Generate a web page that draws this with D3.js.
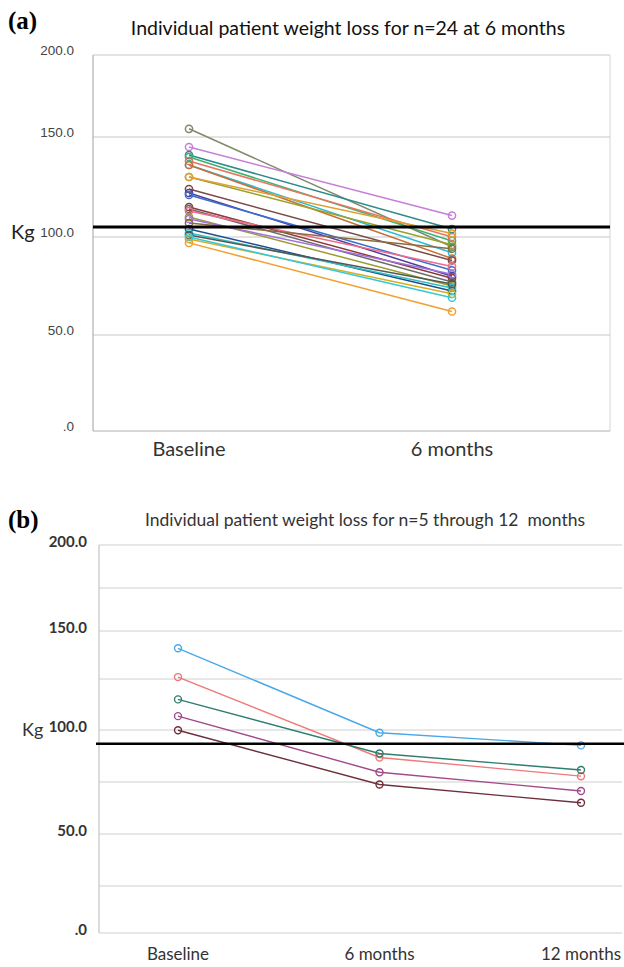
<!DOCTYPE html>
<html>
<head>
<meta charset="utf-8">
<script src="https://cdn.jsdelivr.net/npm/d3@7"></script>
<style>
  body { margin: 0; background: #fff; }
  svg { display: block; }
</style>
</head>
<body>
<div id="chart"></div>
<script>
// Panel (a): 24 patients, baseline and 6 months (kg)
const timesA = ["Baseline", "6 months"];
const baselineA = [155, 145, 141, 140, 138, 136, 136, 130, 130, 124, 122, 121,
    115, 114, 113, 110, 109, 107, 104, 102, 101, 99, 100, 97];
const sixMonthsA = [95, 110.7, 104, 98, 100, 92, 89, 96, 101.7, 88, 80, 83,
    79, 77, 85, 75, 81, 94, 72.5, 74, 76, 71, 69, 62];
const colorsA = ["#7f8a6a", "#c77ed6", "#2e8b8b", "#3cb371", "#e9735f", "#2bbbd0",
    "#c8703a", "#9aa02a", "#e0a030", "#7a4a4a", "#4b3f9e", "#3b6fcf",
    "#8b3a3a", "#6b6b6b", "#f06a8a", "#9c9c2f", "#a070e0", "#8b6b3d",
    "#1f4e8c", "#2fbfbf", "#555555", "#d4b020", "#36c8d8", "#f0a030"];
const refLineA = 105;
const tickLabelsA = [0, 50, 100, 150, 200];

// Panel (b): 5 patients, baseline, 6 months, 12 months (kg)
const timesB = ["Baseline", "6 months", "12 months"];
const patientsB = [
    [141, 98.7, 92.6],
    [126, 86.8, 77.8],
    [115, 88.7, 80.8],
    [106.8, 79.7, 70.7],
    [99.9, 73.8, 65.0]
];
const colorsB = ["#4aa8e8", "#f07878", "#2e7d6e", "#a04a8a", "#6e2e3a"];
const refLineB = 93.4;
const gridTicksB = [0, 25, 50, 75, 100, 125, 150, 175, 200];
const tickLabelsB = [0, 50, 100, 150, 200];

const width = 624, height = 967;
const svg = d3.select("#chart")
    .append("svg")
    .attr("width", width)
    .attr("height", height);

const fmt = d => d === 0 ? ".0" : d3.format(".1f")(d);

// ---------- Panel (a) ----------
const xA = d3.scalePoint().domain(timesA).range([189, 452]);
// the source figure's axis is slightly uneven, so map each tick
const yA = d3.scaleLinear()
    .domain([0, 50, 100, 150, 200])
    .range([431, 335, 237, 137, 55]);
const leftA = 93, rightA = 610;

svg.append("text")
    .attr("x", 8).attr("y", 29)
    .style("font-family", "Liberation Serif, serif")
    .style("font-weight", "bold")
    .style("font-size", "25px")
    .text("(a)");

svg.append("text")
    .attr("x", 348).attr("y", 35)
    .attr("text-anchor", "middle")
    .style("font-family", "Lato, sans-serif")
    .style("font-size", "19.5px")
    .style("fill", "#111")
    .text("Individual patient weight loss for n=24 at 6 months");

const gA = svg.append("g");
gA.selectAll(".grid")
    .data(tickLabelsA.filter(d => d > 0))
    .enter()
    .append("line")
    .attr("x1", leftA).attr("x2", rightA)
    .attr("y1", d => yA(d)).attr("y2", d => yA(d))
    .style("stroke", "#c8c8c8")
    .style("stroke-width", 1.2);

// frame
gA.append("line")
    .attr("x1", leftA).attr("x2", leftA)
    .attr("y1", yA(200)).attr("y2", yA(0))
    .style("stroke", "#b0b0b0").style("stroke-width", 1.2);
gA.append("line")
    .attr("x1", rightA).attr("x2", rightA)
    .attr("y1", yA(200)).attr("y2", yA(0))
    .style("stroke", "#d4d4d4").style("stroke-width", 1);
gA.append("line")
    .attr("x1", leftA).attr("x2", rightA)
    .attr("y1", yA(0)).attr("y2", yA(0))
    .style("stroke", "#b0b0b0").style("stroke-width", 1.2);

// y axis labels
const axisA = gA.append("g")
    .attr("transform", "translate(" + (leftA - 16) + ",0)")
    .call(d3.axisLeft(yA).tickValues(tickLabelsA).tickFormat(fmt).tickSize(0));
axisA.select(".domain").remove();
axisA.selectAll("text")
    .attr("dy", "-0.05em")
    .style("font-family", "Liberation Sans, Arial, sans-serif")
    .style("font-size", "13.5px")
    .style("fill", "#444");

svg.append("text")
    .attr("x", 11).attr("y", yA(100) + 2)
    .style("font-family", "Lato, sans-serif")
    .style("font-size", "20px")
    .style("fill", "#222")
    .text("Kg");

// x labels
gA.selectAll(".xlab")
    .data(timesA)
    .enter()
    .append("text")
    .attr("x", d => xA(d))
    .attr("y", 456)
    .attr("text-anchor", "middle")
    .style("font-family", "Lato, sans-serif")
    .style("font-size", "20px")
    .style("fill", "#333")
    .text(d => d);

// patient lines
const patientsA = baselineA.map((b, i) => [b, sixMonthsA[i]]);
const lineA = d3.line()
    .x((d, i) => xA(timesA[i]))
    .y(d => yA(d));

patientsA.forEach(function (p, i) {
    gA.append("path")
        .datum(p)
        .attr("d", lineA)
        .style("fill", "none")
        .style("stroke", colorsA[i])
        .style("stroke-width", 1.5);
});
patientsA.forEach(function (p, i) {
    gA.selectAll(".pt" + i)
        .data(p)
        .enter()
        .append("circle")
        .attr("cx", (d, j) => xA(timesA[j]))
        .attr("cy", d => yA(d))
        .attr("r", 3.6)
        .style("fill", "none")
        .style("stroke", colorsA[i])
        .style("stroke-width", 1.5);
});

gA.append("line")
    .attr("x1", leftA).attr("x2", rightA)
    .attr("y1", yA(refLineA)).attr("y2", yA(refLineA))
    .style("stroke", "#000")
    .style("stroke-width", 3.2);

// ---------- Panel (b) ----------
const xB = d3.scalePoint().domain(timesB).range([178, 581]);
const yB = d3.scaleLinear()
    .domain(gridTicksB)
    .range([933, 886, 834, 782, 730, 679, 631, 588, 545]);
const leftB = 99, rightB = 622;

svg.append("text")
    .attr("x", 8).attr("y", 528)
    .style("font-family", "Liberation Serif, serif")
    .style("font-weight", "bold")
    .style("font-size", "25px")
    .text("(b)");

svg.append("text")
    .attr("x", 145).attr("y", 526)
    .style("font-family", "Lato, sans-serif")
    .style("font-size", "17.5px")
    .style("fill", "#333")
    .text("Individual patient weight loss for n=5 through 12\u00a0\u00a0months");

const gB = svg.append("g");
gB.selectAll(".grid")
    .data(gridTicksB)
    .enter()
    .append("line")
    .attr("x1", leftB).attr("x2", rightB)
    .attr("y1", d => yB(d)).attr("y2", d => yB(d))
    .style("stroke", "#d0d0d0")
    .style("stroke-width", 1.2);
gB.append("line")
    .attr("x1", leftB).attr("x2", leftB)
    .attr("y1", yB(200)).attr("y2", yB(0))
    .style("stroke", "#c4c4c4").style("stroke-width", 1.2);

const axisB = gB.append("g")
    .attr("transform", "translate(" + (leftB - 9) + ",0)")
    .call(d3.axisLeft(yB).tickValues(tickLabelsB).tickFormat(fmt).tickSize(0));
axisB.select(".domain").remove();
axisB.selectAll("text")
    .attr("dy", "0.1em")
    .style("font-family", "Lato, sans-serif")
    .style("font-size", "15px")
    .style("font-weight", "bold")
    .style("fill", "#333");

svg.append("text")
    .attr("x", 22).attr("y", yB(100) + 6)
    .style("font-family", "Lato, sans-serif")
    .style("font-size", "18px")
    .style("fill", "#333")
    .text("Kg");

gB.selectAll(".xlab")
    .data(timesB)
    .enter()
    .append("text")
    .attr("x", d => xB(d))
    .attr("y", 960)
    .attr("text-anchor", "middle")
    .style("font-family", "Lato, sans-serif")
    .style("font-size", "17px")
    .style("fill", "#333")
    .text(d => d);

const lineB = d3.line()
    .x((d, i) => xB(timesB[i]))
    .y(d => yB(d));

patientsB.forEach(function (p, i) {
    gB.append("path")
        .datum(p)
        .attr("d", lineB)
        .style("fill", "none")
        .style("stroke", colorsB[i])
        .style("stroke-width", 1.4);
    gB.selectAll(".pt" + i)
        .data(p)
        .enter()
        .append("circle")
        .attr("cx", (d, j) => xB(timesB[j]))
        .attr("cy", d => yB(d))
        .attr("r", 3.5)
        .style("fill", "none")
        .style("stroke", colorsB[i])
        .style("stroke-width", 1.4);
});

gB.append("line")
    .attr("x1", leftB - 3).attr("x2", width)
    .attr("y1", yB(refLineB)).attr("y2", yB(refLineB))
    .style("stroke", "#000")
    .style("stroke-width", 2.6);
</script>
</body>
</html>
